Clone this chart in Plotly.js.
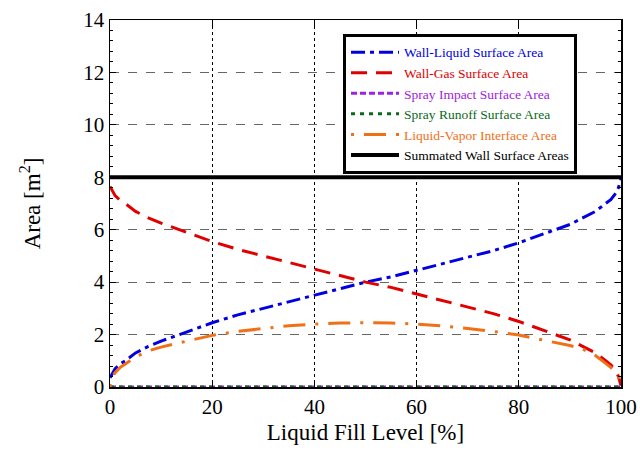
<!DOCTYPE html>
<html><head><meta charset="utf-8">
<script src="https://cdn.plot.ly/plotly-3.0.1.min.js"></script>
<style>html,body{margin:0;padding:0;background:#fff}#chart{width:640px;height:453px}</style>
</head><body><div id="chart"></div>
<script>
const fillLevel = [0,0.5,1,2,3,5,7.5,10,15,20,25,30,35,40,45,50,55,60,65,70,75,80,85,90,92.5,95,97,98,99,99.5,100];
const wallLiquid = [0.35,0.55,0.7,0.88,1.0,1.3,1.55,1.75,2.1,2.45,2.75,3.0,3.25,3.5,3.75,4.0,4.2,4.45,4.7,4.95,5.2,5.5,5.85,6.2,6.45,6.7,7.0,7.15,7.4,7.6,7.95];
const wallGas = [7.65,7.45,7.3,7.12,7.0,6.7,6.45,6.25,5.9,5.55,5.25,5.0,4.75,4.5,4.25,4.0,3.8,3.55,3.3,3.05,2.8,2.5,2.15,1.8,1.55,1.3,1.0,0.85,0.6,0.4,0.05];
const sprayImpact = [0,0,0,0,0,0,0,0,0,0,0,0,0,0,0,0,0,0,0,0,0,0,0,0,0,0,0,0,0,0,0];
const sprayRunoff = [0,0,0,0,0,0,0,0,0,0,0,0,0,0,0,0,0,0,0,0,0,0,0,0,0,0,0,0,0,0,0];
const liquidVapor = [0,0.4,0.55,0.75,0.88,1.15,1.38,1.52,1.75,1.97,2.12,2.24,2.34,2.4,2.44,2.45,2.44,2.4,2.33,2.23,2.12,1.98,1.78,1.58,1.45,1.2,0.9,0.75,0.55,0.4,0];
const summated = [8,8,8,8,8,8,8,8,8,8,8,8,8,8,8,8,8,8,8,8,8,8,8,8,8,8,8,8,8,8,8];
const xTicks = [0,20,40,60,80,100];
const yTicks = [0,2,4,6,8,10,12,14];

const serif = 'Liberation Serif';
function lab(t,c){return '<span style="color:'+c+'">'+t+'</span>';}
const traces = [
  {x:fillLevel,y:wallLiquid,name:lab('Wall-Liquid Surface Area','#0000e0'),mode:'lines',line:{color:'#0000e0',width:3,dash:'14px,5px,4px,5px'}},
  {x:fillLevel,y:wallGas,name:lab('Wall-Gas Surface Area','#e00000'),mode:'lines',line:{color:'#e00000',width:3,dash:'16px,9px'}},
  {x:fillLevel,y:sprayImpact,name:lab('Spray Impact Surface Area','#a020e0'),mode:'lines',line:{color:'#a020e0',width:3,dash:'6px,3px'}},
  {x:fillLevel,y:sprayRunoff,name:lab('Spray Runoff Surface Area','#0a6a1a'),mode:'lines',line:{color:'#0a6a1a',width:3,dash:'4px,5px'}},
  {x:fillLevel,y:liquidVapor,name:lab('Liquid-Vapor Interface Area','#f07018'),mode:'lines',line:{color:'#f07018',width:3,dash:'3px,10px,22px,10px'}},
  {x:fillLevel,y:summated,name:lab('Summated Wall Surface Areas','#000'),mode:'lines',line:{color:'#000',width:4}}
];
const layout = {
  width:640,height:453,
  margin:{l:110,r:19,t:20,b:66},
  paper_bgcolor:'#fff',plot_bgcolor:'#fff',
  font:{family:serif,color:'#000',size:20},
  showlegend:true,
  legend:{x:0.456,y:0.962,xanchor:'left',yanchor:'top',bgcolor:'#fff',bordercolor:'#000',borderwidth:3,
          font:{family:serif,size:13.5,color:'#000'},tracegroupgap:0,itemwidth:48},
  xaxis:{range:[0,100],tickvals:xTicks,ticks:'inside',ticklen:6,tickcolor:'#000',mirror:'allticks',
         showline:true,linecolor:'#000',linewidth:1.5,showgrid:true,gridcolor:'#000',griddash:'dot',gridwidth:1,
         zeroline:false,tickfont:{size:21,family:serif},
         title:{text:'Liquid Fill Level [%]',font:{size:23,family:serif},standoff:6}},
  yaxis:{range:[0,14],tickvals:yTicks,ticks:'inside',ticklen:6,tickcolor:'#000',mirror:'allticks',
         showline:true,linecolor:'#000',linewidth:1.5,showgrid:true,gridcolor:'#666',griddash:'dash',gridwidth:1,
         zeroline:false,tickfont:{size:21,family:serif},
         minor:{dtick:0.4,ticks:'inside',ticklen:3,tickcolor:'#000',showgrid:false},
         title:{text:'Area [m<sup>2</sup>]',font:{size:23,family:serif},standoff:36}}
};
Plotly.newPlot('chart',traces,layout,{displayModeBar:false,staticPlot:true});
</script></body></html>
